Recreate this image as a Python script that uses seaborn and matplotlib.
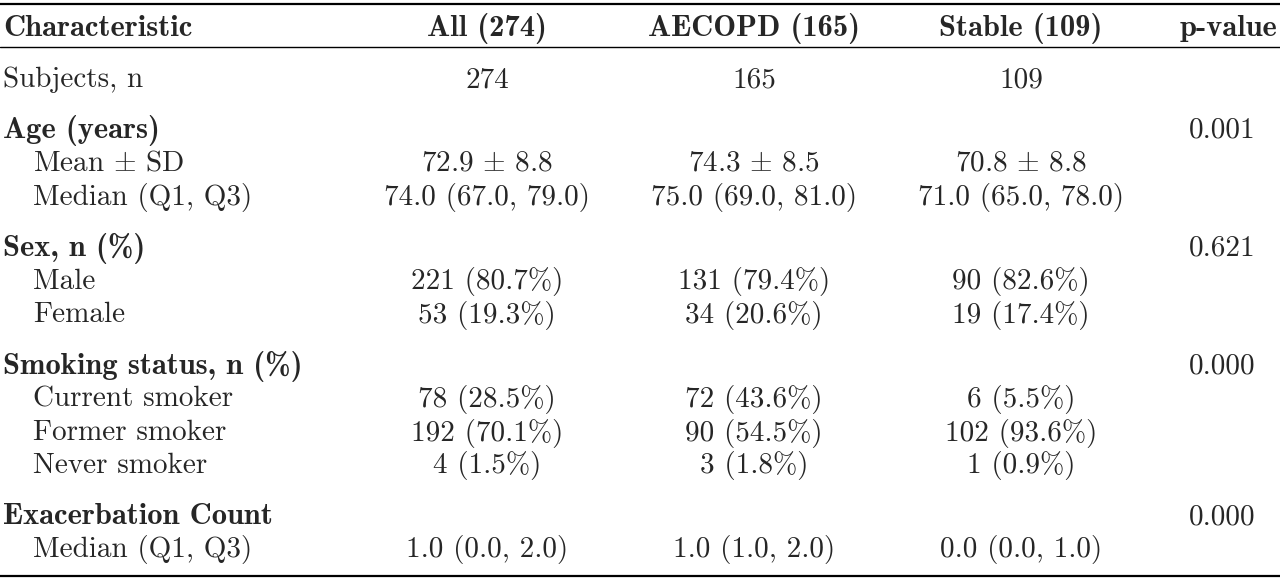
import matplotlib
matplotlib.use("Agg")
import matplotlib.pyplot as plt
import seaborn as sns

sns.set_style("white")
plt.rcParams["axes.unicode_minus"] = False
plt.rcParams["mathtext.fontset"] = "cm"

header = ["Characteristic", "All (274)", "AECOPD (165)", "Stable (109)", "p-value"]

PM = r"$\pm$"
# (label, all, aecopd, stable, p, kind)
rows = [
    ("Subjects, n", "274", "165", "109", "", "plain"),
    ("Age (years)", "", "", "", "0.001", "head"),
    ("Mean " + PM + " SD", "72.9 " + PM + " 8.8", "74.3 " + PM + " 8.5", "70.8 " + PM + " 8.8", "", "sub"),
    ("Median (Q1, Q3)", "74.0 (67.0, 79.0)", "75.0 (69.0, 81.0)", "71.0 (65.0, 78.0)", "", "sub"),
    ("Sex, n (%)", "", "", "", "0.621", "head"),
    ("Male", "221 (80.7%)", "131 (79.4%)", "90 (82.6%)", "", "sub"),
    ("Female", "53 (19.3%)", "34 (20.6%)", "19 (17.4%)", "", "sub"),
    ("Smoking status, n (%)", "", "", "", "0.000", "head"),
    ("Current smoker", "78 (28.5%)", "72 (43.6%)", "6 (5.5%)", "", "sub"),
    ("Former smoker", "192 (70.1%)", "90 (54.5%)", "102 (93.6%)", "", "sub"),
    ("Never smoker", "4 (1.5%)", "3 (1.8%)", "1 (0.9%)", "", "sub"),
    ("Exacerbation Count", "", "", "", "0.000", "head"),
    ("Median (Q1, Q3)", "1.0 (0.0, 2.0)", "1.0 (1.0, 2.0)", "0.0 (0.0, 1.0)", "", "sub"),
]
row_y = [80, 130, 163, 197, 248, 282, 315, 366, 399, 433, 466, 517, 550]

col_x = [487, 754, 1021, 1222]
reg = ["cmr10", "DejaVu Serif"]
bold = ["cmb10", "DejaVu Serif"]
fs = 21
bfs = 22

fig = plt.figure(figsize=(12.8, 5.81), dpi=100)
ax = fig.add_axes([0, 0, 1, 1])
ax.set_xlim(0, 1280)
ax.set_ylim(581, 0)
ax.axis("off")

ax.axhline(4, color="black", lw=1.6)
ax.axhline(47, color="black", lw=1.0)
ax.axhline(576, color="black", lw=1.6)

ax.text(3, 29, header[0], family=bold, fontsize=bfs, va="center", ha="left")
for x, h in zip(col_x[:3], header[1:4]):
    ax.text(x, 29, h, family=bold, fontsize=bfs, va="center", ha="center")
ax.text(1277, 29, header[4], family=bold, fontsize=bfs, va="center", ha="right")

for y, (lab, a, b, c, p, kind) in zip(row_y, rows):
    if kind == "head":
        ax.text(3, y, lab, family=bold, fontsize=bfs, va="center", ha="left")
    else:
        ax.text(33 if kind == "sub" else 3, y, lab, family=reg, fontsize=fs, va="center", ha="left")
    for x, v in zip(col_x, [a, b, c, p]):
        if v:
            ax.text(x, y, v, family=reg, fontsize=fs, va="center", ha="center")

fig.savefig("out.png", dpi=100)
